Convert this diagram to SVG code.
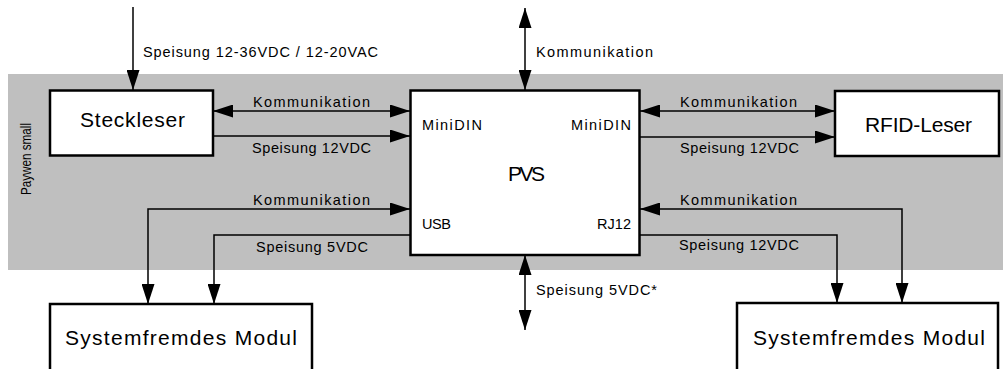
<svg xmlns="http://www.w3.org/2000/svg" width="1006" height="369" viewBox="0 0 1006 369">
<style>
.box{fill:#fff;stroke:#000;stroke-width:2.5}
.ln{fill:none;stroke:#000;stroke-width:1.5}
.t{font-family:"Liberation Sans",Arial,sans-serif;font-size:14.5px;fill:#000}
.big{font-family:"Liberation Sans",Arial,sans-serif;font-size:21px;fill:#000}
</style>
<defs>
<marker id="ah" viewBox="0 0 20 13" refX="20" refY="6.5" markerWidth="20" markerHeight="13" markerUnits="userSpaceOnUse" orient="auto-start-reverse">
<path d="M0,0 L20,6.5 L0,13 z" fill="#000"/>
</marker>
</defs>
<rect id="band" x="8" y="74" width="995" height="196" fill="#bfbfbf"/>
<text transform="translate(31,159) rotate(-90)" text-anchor="middle" font-family="Liberation Sans, Arial, sans-serif" font-size="14" textLength="72" lengthAdjust="spacingAndGlyphs" fill="#000">Paywen small</text>
<g id="connectors">
<path class="ln" d="M133,7 V90" marker-end="url(#ah)"/>
<path class="ln" d="M213,111 H410" marker-start="url(#ah)" marker-end="url(#ah)"/>
<path class="ln" d="M213,136 H410" marker-end="url(#ah)"/>
<path class="ln" d="M525,8 V90" marker-start="url(#ah)" marker-end="url(#ah)"/>
<path class="ln" d="M525,255 V330" marker-start="url(#ah)" marker-end="url(#ah)"/>
<path class="ln" d="M640,111 H835" marker-start="url(#ah)" marker-end="url(#ah)"/>
<path class="ln" d="M640,137 H835" marker-end="url(#ah)"/>
<path class="ln" d="M410,209 H148 V304" marker-start="url(#ah)" marker-end="url(#ah)"/>
<path class="ln" d="M410,235 H214 V304" marker-end="url(#ah)"/>
<path class="ln" d="M640,209 H902 V303" marker-start="url(#ah)" marker-end="url(#ah)"/>
<path class="ln" d="M640,235 H837 V303" marker-end="url(#ah)"/>
<text class="t" x="143" y="57" textLength="235">Speisung 12-36VDC / 12-20VAC</text>
<text class="t" x="253" y="107" textLength="117">Kommunikation</text>
<text class="t" x="252" y="153" textLength="119">Speisung 12VDC</text>
<text class="t" x="253" y="205" textLength="117">Kommunikation</text>
<text class="t" x="256" y="252" textLength="112">Speisung 5VDC</text>
<text class="t" x="536" y="57" textLength="117">Kommunikation</text>
<text class="t" x="536" y="295" textLength="121">Speisung 5VDC*</text>
<text class="t" x="680" y="107" textLength="117">Kommunikation</text>
<text class="t" x="680" y="153" textLength="119">Speisung 12VDC</text>
<text class="t" x="680" y="205" textLength="117">Kommunikation</text>
<text class="t" x="679" y="250" textLength="120">Speisung 12VDC</text>
</g>
<g id="steckleser">
<rect class="box" x="50" y="90.5" width="163" height="65"/>
<text class="big" x="80" y="127" textLength="105">Steckleser</text>
</g>
<g id="pvs">
<rect class="box" x="410.5" y="90.5" width="229" height="164.5"/>
<text class="big" x="508" y="181" textLength="37">PVS</text>
<text class="t" x="422" y="130" textLength="60">MiniDIN</text>
<text class="t" x="571" y="130" textLength="60">MiniDIN</text>
<text class="t" x="422" y="229" textLength="29">USB</text>
<text class="t" x="597" y="229" textLength="34">RJ12</text>
</g>
<g id="rfid">
<rect class="box" x="835" y="91" width="164" height="65"/>
<text class="big" x="865" y="132" textLength="107">RFID-Leser</text>
</g>
<g id="modul-left">
<rect class="box" x="50" y="304" width="262" height="80"/>
<text class="big" x="65" y="345" textLength="232">Systemfremdes Modul</text>
</g>
<g id="modul-right">
<rect class="box" x="737" y="303" width="261" height="80"/>
<text class="big" x="753" y="345" textLength="232">Systemfremdes Modul</text>
</g>
</svg>
